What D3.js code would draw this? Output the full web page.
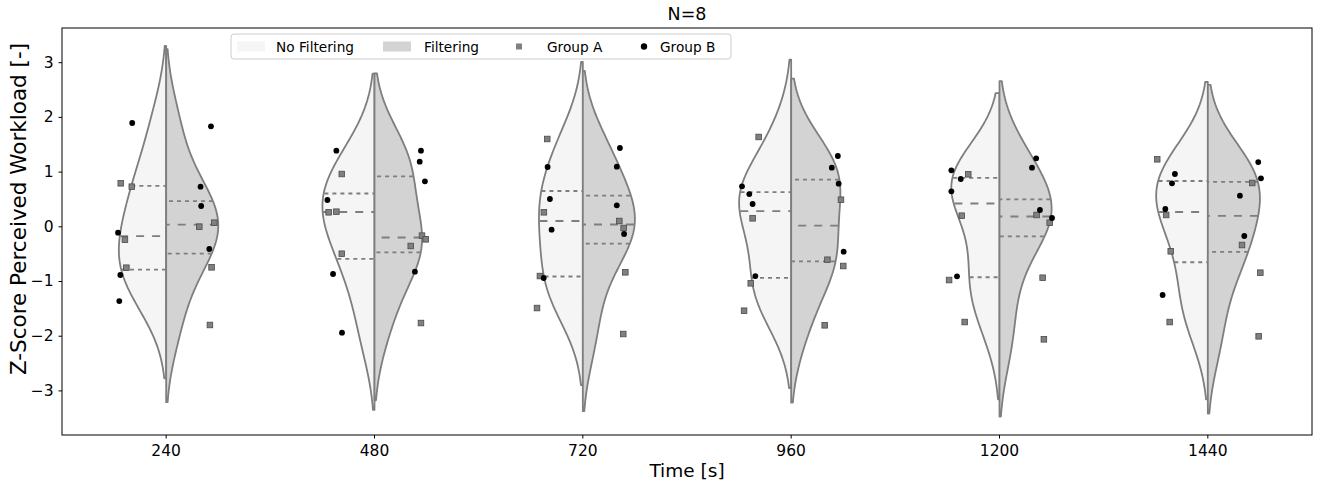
<!DOCTYPE html>
<html>
<head>
<meta charset="utf-8">
<script src="https://cdn.jsdelivr.net/npm/d3@7"></script>
<style>
  body { margin: 0; background: #fff; }
  svg text { font-family: "DejaVu Sans", sans-serif; fill: #000; }
</style>
</head>
<body>
<svg id="chart"></svg>
<script>
// categories and legend labels
const times = ["240", "480", "720", "960", "1200", "1440"];
const conditions = ["No Filtering", "Filtering"];
const groups = ["Group A", "Group B"];

// z-scores, one row per time step, 4 subjects per group
const noFiltA = [
  [0.786, 0.724, -0.245, -0.757],
  [0.956, 0.256, 0.267, -0.501],
  [1.596, 0.256, -0.909, -1.494],
  [1.633, 0.146, -1.042, -1.543],
  [0.951, 0.194, -0.982, -1.750],
  [1.225, 0.207, -0.457, -1.750]
];
const noFiltB = [
  [1.888, -0.117, -0.890, -1.366],
  [1.382, 0.481, -0.872, -1.945],
  [1.084, 0.499, -0.062, -0.945],
  [0.731, 0.590, 0.408, -0.909],
  [1.024, 0.865, 0.640, -0.914],
  [0.956, 0.786, 0.316, -1.256]
];
const filtA = [
  [0.066, -0.007, -0.750, -1.804],
  [-0.171, -0.238, -0.360, -1.768],
  [0.097, -0.031, -0.841, -1.969],
  [0.486, -0.611, -0.726, -1.810],
  [0.207, 0.066, -0.940, -2.066],
  [0.792, -0.342, -0.848, -2.011]
];
const filtB = [
  [1.828, 0.724, 0.371, -0.415],
  [1.382, 1.181, 0.822, -0.829],
  [1.431, 1.090, 0.384, -0.141],
  [1.285, 1.072, 0.779, -0.464],
  [1.243, 1.072, 0.298, 0.152],
  [1.175, 0.877, 0.560, -0.177]
];

// strip plot jitter (category units), same layout as the values
const noFiltAJit = [
  [-0.018, 0.035, 0.002, 0.009],
  [0.043, -0.020, 0.017, 0.043],
  [0.029, 0.013, -0.006, -0.020],
  [0.044, 0.015, 0.006, -0.026],
  [0.050, 0.019, -0.042, 0.033],
  [-0.043, 0.000, 0.022, 0.017]
];
const noFiltBJit = [
  [0.037, -0.031, -0.020, -0.025],
  [0.017, -0.026, 0.001, 0.044],
  [0.031, 0.042, 0.050, 0.012],
  [-0.036, -0.001, 0.015, 0.028],
  [-0.031, 0.014, -0.031, -0.004],
  [0.042, 0.028, -0.004, -0.017]
];
const filtAJit = [
  [0.031, -0.041, 0.018, 0.010],
  [0.028, 0.046, -0.026, 0.023],
  [-0.025, -0.004, 0.004, -0.006],
  [0.039, -0.026, 0.050, -0.039],
  [-0.022, 0.041, 0.007, 0.013],
  [0.013, -0.036, 0.052, 0.044]
];
const filtBJit = [
  [0.015, -0.035, -0.032, 0.007],
  [0.023, 0.017, 0.042, -0.006],
  [-0.022, -0.037, -0.037, -0.002],
  [0.024, -0.005, 0.028, 0.052],
  [-0.024, -0.044, -0.006, 0.052],
  [0.042, 0.055, -0.046, -0.025]
];

const yTicks = [-3, -2, -1, 0, 1, 2, 3];
const fills = ["#f5f5f5", "#d3d3d3"];
const lineColor = "#7e7e7e";

const global_width = 1323,
  global_height = 486;
const margin = {top: 28, right: 11, bottom: 51, left: 62};
const width = global_width - margin.left - margin.right,
  height = global_height - margin.top - margin.bottom;

// gaussian kde, scott bandwidth, cut = 2, 100 grid points
const kde = (vals) => {
  const bw = d3.deviation(vals) * Math.pow(vals.length, -1 / 5);
  const lo = d3.min(vals) - 2 * bw,
    hi = d3.max(vals) + 2 * bw;
  return d3.range(100).map(i => {
    const v = lo + (hi - lo) * i / 99;
    const d = d3.mean(vals, s => Math.exp(-0.5 * ((v - s) / bw) ** 2)) / (bw * Math.sqrt(2 * Math.PI));
    return {v, d};
  });
};

const svg = d3.select("#chart")
  .attr("width", global_width)
  .attr("height", global_height);

const plot = svg.append("g")
  .attr("transform", `translate(${margin.left},${margin.top})`);

const x = d3.scaleBand().domain(times).range([0, width]).padding(0);
const y = d3.scaleLinear().domain([-3.815, 3.625]).range([height, 0]);
const halfW = x.bandwidth() * 0.25;
const dodge = x.bandwidth() * 0.2;

const violins = plot.append("g").attr("class", "violins");

times.forEach((t, i) => {
  const cx = x(t) + x.bandwidth() / 2;
  const halves = [
    noFiltA[i].concat(noFiltB[i]),
    filtA[i].concat(filtB[i])
  ];
  const dens = halves.map(kde);
  const maxD = d3.max(dens, ds => d3.max(ds, e => e.d));

  halves.forEach((vals, h) => {
    const side = h === 0 ? -1 : 1;
    const area = d3.area()
      .y(e => y(e.v))
      .x0(e => cx + side * e.d / maxD * halfW)
      .x1(cx);
    violins.append("path")
      .datum(dens[h])
      .attr("d", area)
      .attr("fill", fills[h])
      .attr("stroke", lineColor)
      .attr("stroke-width", 1.8)
      .attr("stroke-linejoin", "round");
  });

  // quartile lines
  halves.forEach((vals, h) => {
    const side = h === 0 ? -1 : 1;
    const sorted = vals.slice().sort(d3.ascending);
    [0.25, 0.5, 0.75].forEach(p => {
      const q = d3.quantile(sorted, p);
      const near = d3.least(dens[h], e => Math.abs(e.v - q));
      const w = near.d / maxD * halfW * 0.99;
      violins.append("line")
        .attr("x1", cx + side * w)
        .attr("x2", cx)
        .attr("y1", y(q))
        .attr("y2", y(q))
        .attr("stroke", lineColor)
        .attr("stroke-width", 1.8)
        .attr("stroke-dasharray", p === 0.5 ? "8,8" : "4,4");
    });
  });
});

// strip points
const points = plot.append("g").attr("class", "points");
const addPoints = (vals, jit, h, grp) => {
  times.forEach((t, i) => {
    const base = x(t) + x.bandwidth() / 2 + (h === 0 ? -dodge : dodge);
    vals[i].forEach((v, k) => {
      const px = base + jit[i][k] * x.bandwidth();
      if (grp === 0) {
        points.append("rect")
          .attr("x", px - 2.8)
          .attr("y", y(v) - 2.8)
          .attr("width", 5.6)
          .attr("height", 5.6)
          .attr("fill", "#808080")
          .attr("stroke", "#4a4a4a")
          .attr("stroke-width", 0.8);
      } else {
        points.append("circle")
          .attr("cx", px)
          .attr("cy", y(v))
          .attr("r", 2.9)
          .attr("fill", "#000");
      }
    });
  });
};
addPoints(noFiltA, noFiltAJit, 0, 0);
addPoints(noFiltB, noFiltBJit, 0, 1);
addPoints(filtA, filtAJit, 1, 0);
addPoints(filtB, filtBJit, 1, 1);

// axes
const xAxis = plot.append("g")
  .attr("transform", `translate(0,${height})`)
  .call(d3.axisBottom(x).tickSize(3.5).tickSizeOuter(0).tickPadding(6));
const yAxis = plot.append("g")
  .call(d3.axisLeft(y).tickValues(yTicks).tickSize(3.5).tickSizeOuter(0).tickPadding(5));
[xAxis, yAxis].forEach(a => {
  a.select(".domain").remove();
  a.selectAll("text").attr("font-size", 15.5).attr("font-family", "DejaVu Sans");
  a.selectAll("line").attr("stroke", "#000");
});

plot.append("rect")
  .attr("width", width)
  .attr("height", height)
  .attr("fill", "none")
  .attr("stroke", "#000")
  .attr("stroke-width", 1);

// legend
const legend = svg.append("g").attr("transform", "translate(231,34)");
legend.append("rect")
  .attr("width", 500)
  .attr("height", 25)
  .attr("rx", 3)
  .attr("fill", "#fff")
  .attr("fill-opacity", 0.8)
  .attr("stroke", "#cccccc");
const legendItems = [
  {label: conditions[0], kind: "patch", fill: fills[0], mx: 6, tx: 45},
  {label: conditions[1], kind: "patch", fill: fills[1], mx: 152, tx: 193},
  {label: groups[0], kind: "square", mx: 288, tx: 316},
  {label: groups[1], kind: "circle", mx: 413, tx: 429}
];
legendItems.forEach(it => {
  if (it.kind === "patch") {
    legend.append("rect")
      .attr("x", it.mx).attr("y", 7.5)
      .attr("width", 28).attr("height", 10)
      .attr("fill", it.fill);
  } else if (it.kind === "square") {
    legend.append("rect")
      .attr("x", it.mx - 3).attr("y", 9.5)
      .attr("width", 6).attr("height", 6)
      .attr("fill", "#808080");
  } else {
    legend.append("circle")
      .attr("cx", it.mx).attr("cy", 12.5).attr("r", 3.2)
      .attr("fill", "#000");
  }
  legend.append("text")
    .attr("x", it.tx)
    .attr("y", 17.5)
    .attr("font-size", 13.7)
    .text(it.label);
});

// title and axis labels
svg.append("text")
  .attr("x", margin.left + width / 2)
  .attr("y", 20)
  .attr("text-anchor", "middle")
  .attr("font-size", 17.5)
  .text("N=8");

svg.append("text")
  .attr("x", margin.left + width / 2)
  .attr("y", 477)
  .attr("text-anchor", "middle")
  .attr("font-size", 18.5)
  .text("Time [s]");

svg.append("text")
  .attr("transform", "translate(26,209) rotate(-90)")
  .attr("text-anchor", "middle")
  .attr("font-size", 21.5)
  .text("Z-Score Perceived Workload [-]");
</script>
</body>
</html>
